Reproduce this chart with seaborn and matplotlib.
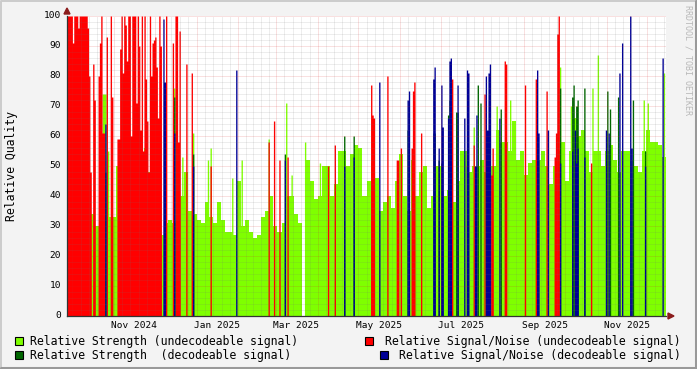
import numpy as np
import pandas as pd
import matplotlib
matplotlib.use("Agg")
import matplotlib.pyplot as plt
from matplotlib.lines import Line2D
from matplotlib.patches import Rectangle, Polygon
from matplotlib.transforms import IdentityTransform
import seaborn as sns

# ---------------- data ----------------
START = pd.Timestamp("2024-09-27")   # first day shown
N_DAYS = 444                          # days on the time axis
GREEN_BIN = 3                         # days per light-green bin

# Relative Strength (undecodeable signal), one value per 3-day bin
green_bins = [30, 30, 30, 30, 30, 40, 34, 30, 33, 38, 33, 33, 50, 50, 50, 50, 50, 50, 51, 56,
              48, 48, 30, 27, 31, 32, 31, 30, 40, 48, 35, 34, 32, 31, 38, 33, 31, 38, 32, 28,
              28, 27, 45, 30, 32, 28, 26, 27, 33, 35, 40, 30, 28, 31, 40, 40, 34, 31, 0, 52,
              45, 39, 40, 50, 50, 40, 44, 55, 55, 50, 54, 57, 56, 40, 45, 51, 46, 35, 38, 40,
              36, 45, 54, 40, 35, 52, 40, 48, 50, 36, 40, 50, 50, 40, 42, 38, 45, 55, 55, 48,
              50, 50, 52, 48, 50, 50, 62, 58, 58, 55, 65, 52, 55, 47, 51, 52, 52, 55, 50, 44,
              50, 55, 58, 45, 55, 66, 60, 62, 55, 48, 55, 55, 50, 55, 57, 52, 48, 55, 55, 52,
              50, 48, 55, 62, 58, 58, 57, 53]
# single-day peaks of the same series
green_peak_days = [26, 27, 28, 30, 79, 85, 93, 104, 106, 122, 129, 149, 162, 166, 176, 187,
                   301, 318, 328, 365, 373, 389, 393, 427, 430, 442]
green_peak_vals = [74, 74, 74, 55, 76, 53, 61, 52, 56, 46, 52, 59, 71, 47, 58, 51,
                   63, 70, 72, 83, 70, 76, 87, 72, 71, 81]

# Relative Signal/Noise (undecodeable signal)
red_days = [0, 1, 2, 3, 4, 5, 6, 7, 8, 9, 10, 11, 12, 13, 14, 15, 16, 17, 19, 20,
            23, 24, 25, 26, 27, 29, 32, 33, 37, 38, 39, 40, 41, 42, 43, 44, 45, 46, 47, 48,
            49, 50, 51, 52, 53, 54, 55, 56, 57, 58, 59, 60, 61, 62, 63, 64, 65, 66, 67, 68,
            69, 73, 78, 80, 81, 82, 83, 88, 92, 106, 149, 153, 157, 163, 193, 198, 225, 226, 227, 237,
            244, 245, 247, 255, 256, 257, 262, 285, 301, 309, 311, 314, 315, 324, 325, 339, 347, 355, 361, 362,
            363, 364, 388]
red_vals = [100, 100, 100, 100, 91, 100, 100, 100, 96, 100, 100, 100, 100, 100, 100, 96, 80, 48, 84, 72,
            80, 91, 100, 61, 61, 93, 100, 73, 59, 59, 89, 100, 81, 100, 97, 85, 100, 100, 60, 100,
            100, 100, 71, 100, 90, 62, 100, 55, 100, 79, 65, 48, 100, 80, 91, 92, 93, 83, 66, 100,
            90, 100, 91, 100, 100, 58, 95, 84, 81, 50, 58, 65, 52, 53, 50, 57, 77, 67, 66, 80,
            52, 52, 56, 56, 75, 78, 61, 79, 57, 74, 50, 47, 56, 85, 84, 77, 79, 75, 53, 61,
            94, 100, 51]

# Relative Strength (decodeable signal)
dgreen_days = [28, 72, 79, 93, 161, 205, 212, 252, 271, 272, 275, 277, 282, 283, 288, 289,
               296, 304, 306, 321, 365, 374, 375, 377, 378, 383, 400, 402, 408, 419, 428]
dgreen_vals = [48, 60, 73, 54, 54, 60, 60, 62, 61, 61, 52, 51, 67, 72, 68, 68,
               50, 77, 71, 69, 76, 73, 77, 70, 72, 76, 75, 69, 73, 72, 55]

# Relative Signal/Noise (decodeable signal)
blue_days = [28, 71, 72, 79, 93, 125, 161, 205, 212, 231, 252, 253, 271, 272, 275, 277, 278,
             282, 283, 284, 289, 294, 296, 297, 302, 303, 310, 311, 312, 313, 320, 348, 349,
             356, 365, 374, 376, 377, 378, 383, 399, 401, 409, 411, 417, 418, 428, 441]
blue_vals = [64, 99, 78, 61, 50, 82, 52, 50, 53, 78, 72, 75, 79, 83, 56, 77, 63,
             66, 85, 86, 77, 66, 82, 81, 50, 67, 80, 62, 81, 84, 66, 82, 61,
             62, 51, 55, 62, 51, 56, 53, 62, 61, 81, 91, 100, 56, 50, 86]

legend_labels = ["Relative Strength (undecodeable signal)",
                 "Relative Signal/Noise (undecodeable signal)",
                 "Relative Strength  (decodeable signal)",
                 "Relative Signal/Noise (decodeable signal)"]
x_label_months = ["2024-11", "2025-01", "2025-03", "2025-05", "2025-07", "2025-09", "2025-11"]
y_ticks = list(range(0, 101, 10))

C_GREEN, C_RED, C_DGREEN, C_BLUE = "#7FFF00", "#FF0000", "#006600", "#000096"

# ---------------- figure ----------------
sns.set_theme(style="white")
plt.rcParams['font.family'] = ['DejaVu Sans Mono', 'DejaVu Sans']

W, H = 697, 369
L, R, T, B = 67, 666, 16, 316
fig = plt.figure(figsize=(W / 100, H / 100), dpi=100, facecolor="#F3F3F3")
ax = fig.add_axes([L / W, 1 - B / H, (R - L) / W, (B - T) / H])
ax.set_facecolor("white")


def area(days, vals, width, color, z):
    # one stepped filled area per series (rrdtool AREA look, no seams)
    sns.histplot(x=np.asarray(days, float), weights=np.asarray(vals, float),
                 binwidth=width, binrange=(0, N_DAYS), color=color, alpha=1,
                 linewidth=0, element="step", fill=True, ax=ax, zorder=z)


green_x = [i * GREEN_BIN for i in range(len(green_bins))]
area(green_x, green_bins, GREEN_BIN, C_GREEN, 2)
area(green_peak_days, green_peak_vals, 1, C_GREEN, 2.1)
area(red_days, red_vals, 1, C_RED, 2.2)
area(dgreen_days, dgreen_vals, 1, C_DGREEN, 2.3)
area(blue_days, blue_vals, 1, C_BLUE, 2.4)

ax.set_xlim(0, N_DAYS)
ax.set_ylim(0, 100)
ax.set_xlabel("")
ax.set_ylabel("")

# grid (drawn over the areas, like rrdtool)
minor_c = (0.45, 0.45, 0.45, 0.25)
major_c = (0.85, 0.15, 0.15, 0.28)
dots = (0, (1, 1))
for v in range(2, 100, 2):
    if v % 10:
        ax.axhline(v, color=minor_c, lw=0.72, ls=dots, zorder=5)
for v in range(10, 101, 10):
    ax.axhline(v, color=major_c, lw=0.72, ls=dots, zorder=6)

month_starts = pd.date_range("2024-09-01", "2026-01-01", freq="MS")
ms_days = [(m - START).days for m in month_starts]
for a, b in zip(ms_days[:-1], ms_days[1:]):
    for k in range(1, 5):
        d = a + (b - a) * k / 5
        if 0 < d < N_DAYS:
            ax.axvline(d, color=minor_c, lw=0.72, ls=dots, zorder=5)
    if 0 < a < N_DAYS:
        ax.axvline(a, color=major_c, lw=0.72, ls=dots, zorder=6)

ax.set_xticks([d for d in ms_days if 0 < d < N_DAYS])
ax.set_xticklabels([])
ax.set_yticks(y_ticks)
ax.set_yticklabels([])
ax.tick_params(axis="both", which="both", length=2.5, width=0.8, color="#D06060",
               direction="out")

for s in ["top", "right"]:
    ax.spines[s].set_visible(False)
for s in ["left", "bottom"]:
    ax.spines[s].set_color("#333333")
    ax.spines[s].set_linewidth(0.9)
    ax.spines[s].set_zorder(8)

px = IdentityTransform()


def P(x, y):
    return (x, H - y)


# tick labels
for m in x_label_months:
    d = (pd.Timestamp(m + "-16") - START).days
    x = L + (R - L) * d / N_DAYS
    fig.text(*P(x, 325), pd.Timestamp(m).strftime("%b %Y"), transform=px,
             ha="center", va="center", fontsize=6.8, color="#000000")
for v in y_ticks:
    y = B - (B - T) * v / 100
    fig.text(*P(61, y), str(v), transform=px, ha="right", va="center",
             fontsize=6.8, color="#000000")

fig.text(*P(12, 166), "Relative Quality", transform=px, rotation=90,
         ha="center", va="center", fontsize=8.3, color="#000000")
fig.text(*P(688, 60), "RRDTOOL / TOBI OETIKER", transform=px, rotation=270,
         ha="center", va="center", fontsize=6, color="#B8B8B8")

# arrows
arrow_c = "#8B1C1C"
fig.add_artist(Polygon([P(64, 14), P(70, 14), P(67, 8)], closed=True,
                       transform=px, color=arrow_c, zorder=10))
fig.add_artist(Polygon([P(668, 313), P(668, 319), P(674, 316)], closed=True,
                       transform=px, color=arrow_c, zorder=10))

# legend
leg = [(15, 341, "left", 30, C_GREEN, legend_labels[0]),
       (365, 341, "right", 681, C_RED, legend_labels[1]),
       (15, 355, "left", 30, C_DGREEN, legend_labels[2]),
       (380, 355, "right", 681, C_BLUE, legend_labels[3])]
for sx, cy, ha, tx, col, lab in leg:
    fig.add_artist(Rectangle(P(sx, cy + 4), 8, 8, transform=px, facecolor=col,
                             edgecolor="black", linewidth=0.8))
    fig.text(*P(tx, cy), lab, transform=px, ha=ha, va="center",
             fontsize=8.3, color="#000000")

# 3-D frame of the canvas
fig.add_artist(Line2D([0.5, 0.5, W - 0.5], [0.5, H - 0.5, H - 0.5], transform=px,
                      color="#CBCBCB", lw=1.4))
fig.add_artist(Line2D([0.5, W - 1, W - 1], [1, 1, H - 0.5], transform=px,
                      color="#999999", lw=2.2))

fig.savefig("out.png", dpi=100, facecolor=fig.get_facecolor())
